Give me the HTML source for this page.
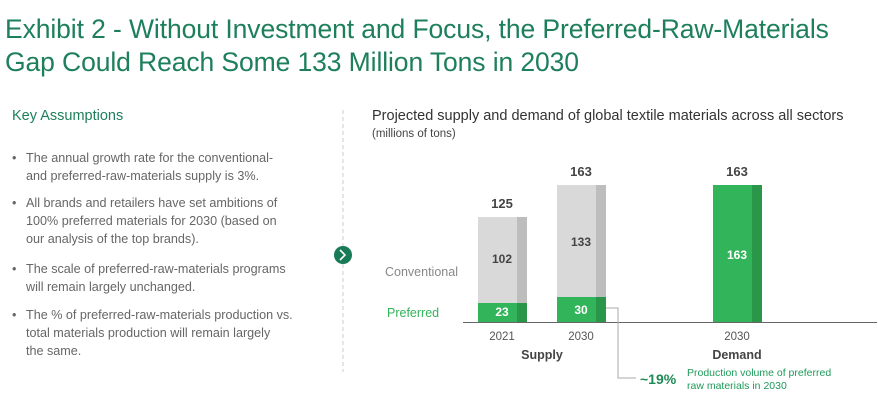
<!DOCTYPE html>
<html><head><meta charset="utf-8"><style>
body{margin:0;width:878px;height:412px;background:#fff;font-family:"Liberation Sans",sans-serif;position:relative;overflow:hidden}
.t{position:absolute;white-space:nowrap}
.h{left:5px;font-size:26.5px;color:#1e7f5c;letter-spacing:-0.1px}
.b{left:12px;font-size:12.6px;color:#666}
</style></head><body>
<div class="t h" style="top:14px">Exhibit 2 - Without Investment and Focus, the Preferred-Raw-Materials</div>
<div class="t h" style="top:47px">Gap Could Reach Some 133 Million Tons in 2030</div>
<div class="t" style="left:12px;top:108px;font-size:14.5px;color:#1e7f5c">Key Assumptions</div>
<div class="t b" style="top:149px;line-height:18px"><span style="position:absolute;left:0;top:0">•</span><div style="margin-left:14px">The annual growth rate for the conventional-<br>and preferred-raw-materials supply is 3%.</div></div>
<div class="t b" style="top:194px;line-height:18px"><span style="position:absolute;left:0;top:0">•</span><div style="margin-left:14px">All brands and retailers have set ambitions of<br>100% preferred materials for 2030 (based on<br>our analysis of the top brands).</div></div>
<div class="t b" style="top:260px;line-height:18px"><span style="position:absolute;left:0;top:0">•</span><div style="margin-left:14px">The scale of preferred-raw-materials programs<br>will remain largely unchanged.</div></div>
<div class="t b" style="top:306px;line-height:18px"><span style="position:absolute;left:0;top:0">•</span><div style="margin-left:14px">The % of preferred-raw-materials production vs.<br>total materials production will remain largely<br>the same.</div></div>
<div class="t" style="left:372px;top:108px;font-size:14.5px;color:#333">Projected supply and demand of global textile materials across all sectors</div>
<div class="t" style="left:372px;top:128px;font-size:11.5px;color:#444">(millions of tons)</div>
<svg width="878" height="412" style="position:absolute;left:0;top:0" font-family="Liberation Sans, sans-serif">
<line x1="343" y1="110" x2="343" y2="372" stroke="#ccc" stroke-dasharray="4,3"/>
<circle cx="343" cy="255" r="9" fill="#197a56"/>
<path d="M340 250 L345 255 L340 260" stroke="#fff" stroke-width="1.6" fill="none"/>
<rect x="478" y="217" width="39" height="86" fill="#d9d9d9"/><rect x="517" y="217" width="10" height="86" fill="#bdbdbd"/>
<rect x="478" y="303" width="39" height="19" fill="#32b45a"/><rect x="517" y="303" width="10" height="19" fill="#29964a"/>
<rect x="557" y="185" width="39" height="112" fill="#d9d9d9"/><rect x="596" y="185" width="10" height="112" fill="#bdbdbd"/>
<rect x="557" y="297" width="39" height="25" fill="#32b45a"/><rect x="596" y="297" width="10" height="25" fill="#29964a"/>
<rect x="713" y="185" width="39" height="137" fill="#32b45a"/><rect x="752" y="185" width="10" height="137" fill="#29964a"/>
<line x1="463" y1="322.5" x2="877" y2="322.5" stroke="#666"/>
<polyline points="606,308 618,308 618,378 636,378" fill="none" stroke="#aaa"/>
<g font-weight="bold" text-anchor="middle" font-size="13" fill="#444">
<text x="502" y="208">125</text><text x="581" y="176">163</text><text x="737" y="176">163</text>
<text x="502" y="263" font-size="12">102</text><text x="581" y="246" font-size="12">133</text>
<text x="737" y="259" font-size="12" fill="#fff">163</text>
<text x="502" y="316" font-size="12" fill="#fff">23</text><text x="581" y="314" font-size="12" fill="#fff">30</text>
<text x="542" y="359" font-size="12.5">Supply</text><text x="737" y="359" font-size="12.5">Demand</text>
</g>
<g text-anchor="middle" font-size="11.5" fill="#555"><text x="502" y="340">2021</text><text x="581" y="340">2030</text><text x="737" y="340">2030</text></g>
<text x="385" y="276" font-size="12.5" fill="#888">Conventional</text>
<text x="387" y="317" font-size="12.5" fill="#32b45a">Preferred</text>
<text x="640" y="384" font-size="14" font-weight="bold" fill="#1e8a55">~19%</text>
<text x="687" y="376" font-size="10.5" fill="#1e9a5a">Production volume of preferred</text>
<text x="687" y="389" font-size="10.5" fill="#1e9a5a">raw materials in 2030</text>
</svg>
</body></html>
